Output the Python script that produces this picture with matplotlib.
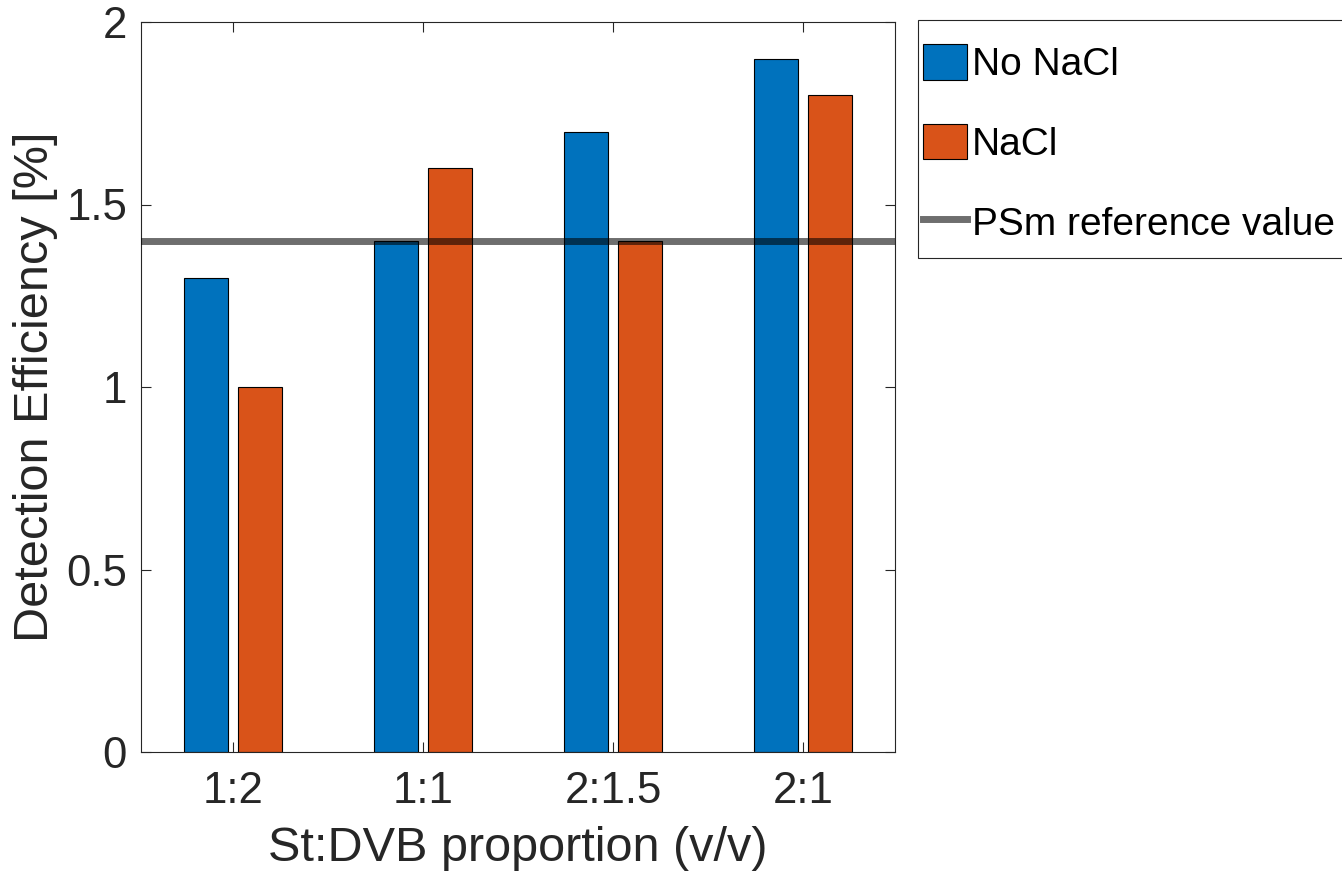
import matplotlib
matplotlib.use("Agg")
import matplotlib.pyplot as plt
from matplotlib.patches import Rectangle
import numpy as np

categories = ["1:2", "1:1", "2:1.5", "2:1"]
no_nacl = [1.3, 1.4, 1.7, 1.9]
nacl = [1.0, 1.6, 1.4, 1.8]
ref_value = 1.4
yticks = [0, 0.5, 1, 1.5, 2]
ytick_labels = ["0", "0.5", "1", "1.5", "2"]

plt.rcParams['font.family'] = ['Liberation Sans', 'DejaVu Sans']
txt = '#262626'

W, H = 1342, 881
fig = plt.figure(figsize=(W/100, H/100), dpi=100)
ax = fig.add_axes([141/W, 1 - 752/H, (895-141)/W, (752-22)/H])

x = np.arange(1, len(categories) + 1)
w = 0.232
off = 0.142
b1 = ax.bar(x - off, no_nacl, w, color='#0072BD', edgecolor='k', linewidth=0.8, label='No NaCl', zorder=2)
b2 = ax.bar(x + off, nacl, w, color='#D95319', edgecolor='k', linewidth=0.8, label='NaCl', zorder=2)
ln = ax.axhline(ref_value, color='k', alpha=0.57, linewidth=5, label='PSm reference value', zorder=3)

ax.set_xlim(0.516, 4.484)
ax.set_ylim(0, 2)
ax.set_xticks(x)
ax.set_xticklabels(categories)
ax.set_yticks(yticks)
ax.set_yticklabels(ytick_labels)
ax.tick_params(direction='in', top=True, right=True, length=7, width=0.8,
               labelsize=31.5, colors='#262626', labelcolor=txt)
ax.tick_params(axis='x', pad=14)
ax.tick_params(axis='y', pad=10)
for s in ax.spines.values():
    s.set_color('#262626')
    s.set_linewidth(0.8)
ax.set_xlabel('St:DVB proportion (v/v)', fontsize=35, color=txt, labelpad=10)
ax.set_ylabel('Detection Efficiency [%]', fontsize=35, color=txt, labelpad=6)

# legend box
fig.patches.append(Rectangle((918/W, 1 - 258/H), (W - 918 + 10)/W, (258-20)/H,
                             transform=fig.transFigure, facecolor='white',
                             edgecolor='#262626', linewidth=0.8, zorder=0))
leg = fig.legend(handles=[b1, b2, ln], loc='upper left',
                 bbox_to_anchor=(923/W, 1 - 44/H), fontsize=28,
                 frameon=False,
                 handlelength=1.13, handleheight=1.03, handletextpad=0.13,
                 labelspacing=1.05, borderpad=0, borderaxespad=0)
for t in leg.get_texts():
    t.set_color('black')

fig.savefig('out.png', dpi=100)
